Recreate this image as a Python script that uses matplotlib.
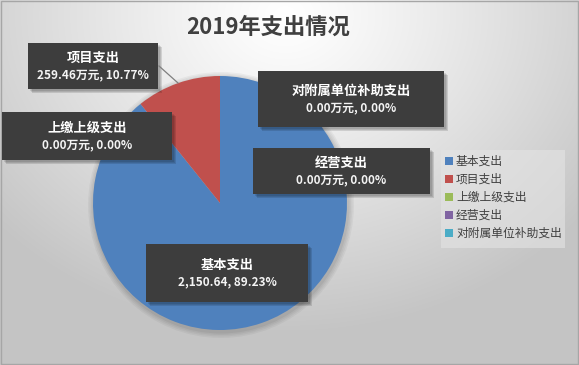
import numpy as np
import matplotlib
matplotlib.use("Agg")
import matplotlib.pyplot as plt
from matplotlib.patches import Rectangle

plt.rcParams['font.family'] = ['Noto Sans CJK SC', 'DejaVu Sans']

categories = ['基本支出', '项目支出', '上缴上级支出', '经营支出', '对附属单位补助支出']
values = [2150.64, 259.46, 0.00, 0.00, 0.00]
percents = ['89.23%', '10.77%', '0.00%', '0.00%', '0.00%']
value_labels = ['2,150.64', '259.46万元', '0.00万元', '0.00万元', '0.00万元']
colors = ['#4F81BD', '#C0504D', '#9BBB59', '#8064A2', '#4BACC6']
title = '2019年支出情况'

W, H = 579, 365
fig = plt.figure(figsize=(W / 100, H / 100), dpi=100)

# background gradient
bg = fig.add_axes([0, 0, 1, 1], zorder=0)
yy, xx = np.mgrid[0:H, 0:W]
d = np.sqrt(((xx - 285) / 400.0) ** 2 + ((yy - 15) / 330.0) ** 2)
g = np.clip(1.0 - 0.24 * d ** 1.15, 0.77, 1.0)
img = np.dstack([g, g, g])
bg.imshow(img, extent=[0, W, H, 0], aspect='auto')
bg.set_xlim(0, W)
bg.set_ylim(H, 0)
bg.axis('off')
bg.add_patch(Rectangle((0.5, 0.5), W - 1.5, H - 1.5, fill=False, ec='#a6a6a6', lw=1))

# pie shadow
cx, cy, r = 220, 203, 127
for i, a in enumerate([0.04, 0.04, 0.04, 0.05]):
    circ = plt.Circle((cx + 1, cy + 2), r + 6 - i * 1.5, color='#000000', alpha=a, lw=0)
    bg.add_patch(circ)

# pie
ax = fig.add_axes([(cx - r) / W, (H - cy - r) / H, 2 * r / W, 2 * r / H], zorder=1)
ax.pie(values, colors=colors, startangle=90, counterclock=False, radius=1,
       wedgeprops=dict(linewidth=0))
ax.set_xlim(-1, 1)
ax.set_ylim(-1, 1)
ax.set_aspect('auto')
ax.axis('off')

# overlay for labels (pixel coords)
ov = fig.add_axes([0, 0, 1, 1], zorder=2)
ov.set_xlim(0, W)
ov.set_ylim(H, 0)
ov.axis('off')
ov.patch.set_alpha(0)

# leader line for 项目支出
ov.plot([159, 178], [66, 83], color='#7f7f7f', lw=0.9)

boxes = {
    0: (146, 244, 162, 58),
    1: (28, 43, 130, 46),
    2: (2, 112, 170, 48),
    3: (253, 148, 177, 46),
    4: (258, 71, 186, 56),
}
for i, (x, y, w, h) in boxes.items():
    for k, al in enumerate([0.10, 0.10, 0.12]):
        ov.add_patch(Rectangle((x + 2 + k, y + 2 + k), w, h, fc='black', alpha=al, lw=0))
    ov.add_patch(Rectangle((x, y), w, h, fc='#3d3d3d', ec='none', lw=0))
    # dot texture
    gx = np.arange(x + 3, x + w - 1, 4.0)
    gy = np.arange(y + 3, y + h - 1, 4.0)
    GX, GY = np.meshgrid(gx, gy)
    ov.scatter(GX.ravel(), GY.ravel(), s=0.35, c='#5a5a5a', lw=0, marker='s')
    xc = x + w / 2
    ov.text(xc, y + h / 2 - 8, categories[i], color='white', fontsize=9.5,
            fontweight='bold', ha='center', va='center')
    ov.text(xc, y + h / 2 + 9, f'{value_labels[i]}, {percents[i]}', color='#f4f4f4',
            fontsize=8.5, fontweight='bold', ha='center', va='center')

# title
ov.text(268, 27, title, fontsize=16, fontweight='bold', color='#404040',
        ha='center', va='center')

# legend
ov.add_patch(Rectangle((441, 150), 124, 98, fc='#e4e4e4', ec='none', alpha=0.6))
for i, c in enumerate(categories):
    yv = 161 + i * 18
    ov.add_patch(Rectangle((445, yv - 4), 7.5, 7.5, fc=colors[i], ec='none'))
    ov.text(456, yv, c, fontsize=8.5, color='#404040', ha='left', va='center')

fig.savefig('out.png', dpi=100)
